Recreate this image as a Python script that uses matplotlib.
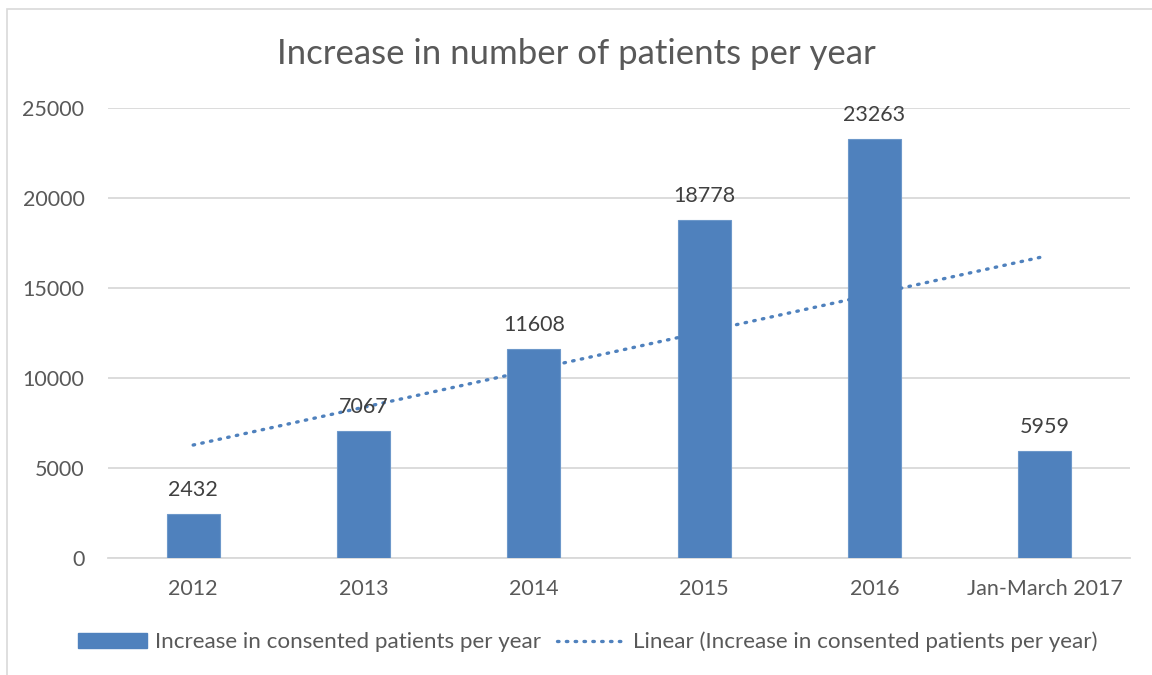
import numpy as np
import matplotlib
matplotlib.use("Agg")
import matplotlib.pyplot as plt
from matplotlib.patches import Rectangle, Patch
from matplotlib.lines import Line2D

categories = ["2012", "2013", "2014", "2015", "2016", "Jan-March 2017"]
values = [2432, 7067, 11608, 18778, 23263, 5959]
yticks = [0, 5000, 10000, 15000, 20000, 25000]
title = "Increase in number of patients per year"
bar_label = "Increase in consented patients per year"
trend_label = "Linear (Increase in consented patients per year)"

plt.rcParams['font.family'] = ['Lato', 'DejaVu Sans']
txt = '#595959'
blue = '#4F81BD'
grid = '#d9d9d9'
fs = 15.5
lfs = 16.1
dots = (0, (0.45, 2.2))

fig = plt.figure(figsize=(11.52, 6.75), dpi=100)
ax = fig.add_axes([108/1152, 1-558/675, (1130-108)/1152, (558-108)/675])

x = np.arange(1, len(values) + 1)
ax.bar(x, values, width=0.31, color=blue, edgecolor='#6d98ca', linewidth=0.8, zorder=3)

# Excel-style linear trendline (least squares fit of the series)
coef = np.polyfit(x, values, 1)
ax.plot(x, np.polyval(coef, x), linestyle=dots, color=blue, lw=2.4,
        dash_capstyle='round', zorder=4)

for xi, v in zip(x, values):
    ax.annotate(f"{v}", (xi, v), xytext=(0, 10), textcoords='offset points',
                ha='center', va='bottom', fontsize=fs, color='#404040', zorder=5)

ax.set_xlim(0.5, len(values) + 0.5)
ax.set_ylim(0, 25000)
ax.set_yticks(yticks)
ax.set_xticks(x)
ax.set_xticklabels(categories)
ax.tick_params(axis='both', length=0, labelsize=fs, labelcolor=txt)
ax.tick_params(axis='y', pad=17)
ax.tick_params(axis='x', pad=15)
ax.yaxis.grid(True, color=grid, lw=1.3, zorder=0)
for s in ['top', 'right', 'left']:
    ax.spines[s].set_visible(False)
ax.spines['bottom'].set_color(grid)
ax.spines['bottom'].set_linewidth(1.3)
ax.set_axisbelow(True)

fig.text(0.5, 1-54/675, title, ha='center', va='center', fontsize=25, color=txt)

# chart frame
fig.add_artist(Rectangle((7/1152, -0.1), 1.2, 1-9/675+0.1, transform=fig.transFigure,
                         fill=False, edgecolor=grid, lw=1.2))

handles = [Patch(facecolor=blue, edgecolor=blue, label=bar_label),
           Line2D([], [], color=blue, lw=2.4, linestyle=dots,
                  dash_capstyle='round', label=trend_label)]
fig.legend(handles=handles, loc='center', bbox_to_anchor=(588/1152, 1-642/675),
           ncol=2, frameon=False, fontsize=lfs, labelcolor=txt, handlelength=3.05,
           handleheight=0.62, handletextpad=0.36, columnspacing=0.72)

fig.savefig('out.png', dpi=100)
